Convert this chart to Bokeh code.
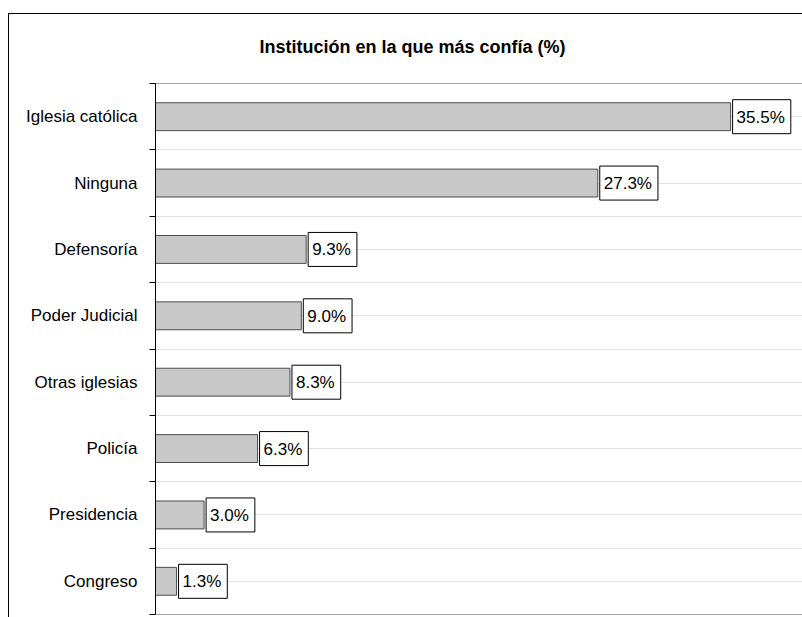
from bokeh.plotting import figure
from bokeh.models import ColumnDataSource, Range1d, FixedTicker, Label
from bokeh.embed import file_html
from bokeh.resources import INLINE

categories = ["Iglesia católica", "Ninguna", "Defensoría", "Poder Judicial",
              "Otras iglesias", "Policía", "Presidencia", "Congreso"]
values = [35.5, 27.3, 9.3, 9.0, 8.3, 6.3, 3.0, 1.3]
value_labels = ["35.5%", "27.3%", "9.3%", "9.0%", "8.3%", "6.3%", "3.0%", "1.3%"]
title_text = "Institución en la que más confía (%)"

n = len(categories)
pos = [n - i - 0.5 for i in range(n)]  # top to bottom
src = ColumnDataSource(dict(cat=categories, val=values, lab=value_labels, pos=pos))

FONT = "Liberation Sans"

p = figure(width=794, height=604, x_range=Range1d(0, 40), y_range=Range1d(0, n),
           output_backend="svg", toolbar_location=None,
           min_border_left=146, min_border_right=0, min_border_top=69, min_border_bottom=4)
p.margin = (13, 0, 0, 8)
p.styles = {"border-left": "1px solid black", "border-top": "1px solid black"}

p.hbar(y="pos", right="val", left=0, height=0.42, source=src,
       fill_color="#c8c8c8", line_color="#4d4d4d", line_width=1)

for v, lab, y in zip(values, value_labels, pos):
    p.add_layout(Label(x=v, y=y, text=lab, x_offset=2,
                       text_align="left", text_baseline="middle",
                       text_font=FONT, text_font_size="17px", text_color="black",
                       background_fill_color="white", border_line_color="black",
                       border_line_width=1,
                       padding=dict(left=4, right=6, top=8, bottom=7)))

# a second (blank) line lifts the title further above the plot frame
p.title.text = title_text + "\n "
p.title.text_font = FONT
p.title.text_font_size = "18px"
p.title.text_font_style = "bold"
p.title.text_color = "black"
p.title.align = "left"
p.title.offset = 104
p.title.standoff = 14

p.xaxis.visible = False
p.xgrid.visible = False

centers = sorted(pos)
bounds = list(range(0, n + 1))
yax = p.yaxis[0]
yax.ticker = FixedTicker(ticks=centers, minor_ticks=bounds)
yax.major_label_overrides = {c: cat for c, cat in zip(pos, categories)}
yax.major_tick_out = 0
yax.major_tick_in = 0
yax.minor_tick_out = 6
yax.minor_tick_in = 0
yax.minor_tick_line_color = "black"
yax.axis_line_color = "black"
yax.major_label_text_font = FONT
yax.major_label_text_font_size = "17px"
yax.major_label_text_color = "black"
yax.major_label_standoff = 12

p.ygrid.grid_line_color = "#e3e3e3"
p.ygrid.minor_grid_line_color = "#e3e3e3"
p.outline_line_color = "#a6a6a6"
p.background_fill_color = "white"
p.border_fill_color = "white"

open("out.html", "w").write(file_html(p, INLINE))
